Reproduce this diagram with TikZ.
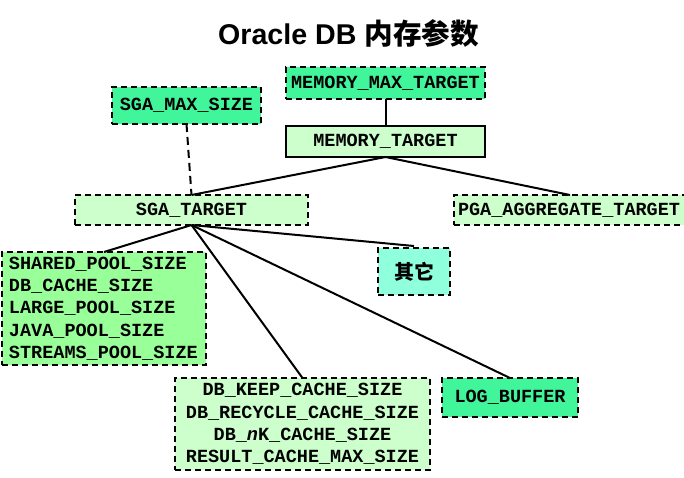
\documentclass[tikz,border=0pt]{standalone}
\usepackage{fontspec}
\setmainfont{Liberation Sans}
\setmonofont{Liberation Mono}
\newfontfamily\cjkfont{Noto Sans CJK SC}
\definecolor{brightgreen}{HTML}{40F59A}
\definecolor{palegreen}{HTML}{CCFFCC}
\definecolor{midgreen}{HTML}{99FF99}
\definecolor{aqua}{HTML}{90FFDC}
\tikzset{
  box/.style={draw=black, line width=2pt, inner sep=0pt, outer sep=0pt,
    font=\ttfamily\bfseries\fontsize{18.5}{22.3}\selectfont},
  dashbox/.style={box, dash pattern=on 6pt off 4pt},
  link/.style={draw=black, line width=2pt},
}
\begin{document}
\begin{tikzpicture}[x=1pt,y=-1pt]
\useasboundingbox (0,0) rectangle (684,477);
\node[font=\bfseries\fontsize{28.6}{30}\selectfont] (title) at (348.5,33) {Oracle DB {\cjkfont\bfseries 内存参数}};
\node[dashbox, fill=brightgreen, minimum width=149pt, minimum height=37pt] (smax) at (186.5,105.5) {SGA\_MAX\_SIZE};
\node[dashbox, fill=brightgreen, minimum width=199pt, minimum height=32pt] (mmax) at (385.5,83) {MEMORY\_MAX\_TARGET};
\node[box, fill=palegreen, minimum width=199pt, minimum height=31pt] (mt) at (385.5,141.5) {MEMORY\_TARGET};
\node[dashbox, fill=palegreen, minimum width=233pt, minimum height=30pt] (sga) at (191.5,210) {SGA\_TARGET};
\node[dashbox, fill=palegreen, minimum width=232pt, minimum height=30pt, align=left, text width=224pt] (pga) at (570,210) {PGA\_AGGREGATE\_TARGET};
\node[dashbox, fill=midgreen, minimum width=204pt, minimum height=113pt, align=left, text width=190pt, xshift=0pt] (list) at (104,308.5) {SHARED\_POOL\_SIZE\\DB\_CACHE\_SIZE\\LARGE\_POOL\_SIZE\\JAVA\_POOL\_SIZE\\STREAMS\_POOL\_SIZE};
\node[dashbox, fill=aqua, minimum width=72pt, minimum height=47pt, font=\cjkfont\bfseries\fontsize{20}{22}\selectfont] (other) at (414,271.5) {其它};
\node[dashbox, fill=palegreen, minimum width=255pt, minimum height=92pt, align=center] (keep) at (302.5,424) {DB\_KEEP\_CACHE\_SIZE\\DB\_RECYCLE\_CACHE\_SIZE\\DB\_{\itshape n}K\_CACHE\_SIZE\\RESULT\_CACHE\_MAX\_SIZE};
\node[dashbox, fill=brightgreen, minimum width=136pt, minimum height=39pt] (log) at (510,397.5) {LOG\_BUFFER};
\draw[link] (mmax.south) -- (mt.north);
\draw[link] (mt.south) -- (sga.north);
\draw[link] (mt.south) -- (pga.north -| 570,0);
\draw[link, dash pattern=on 8pt off 5pt] (smax.south) -- (sga.north);
\draw[link] (sga.south) -- (list.north);
\draw[link] (sga.south) -- ([yshift=2pt]other.north);
\draw[link] (sga.south) -- (keep.north);
\draw[link] (sga.south) -- (log.north);
\end{tikzpicture}
\end{document}
